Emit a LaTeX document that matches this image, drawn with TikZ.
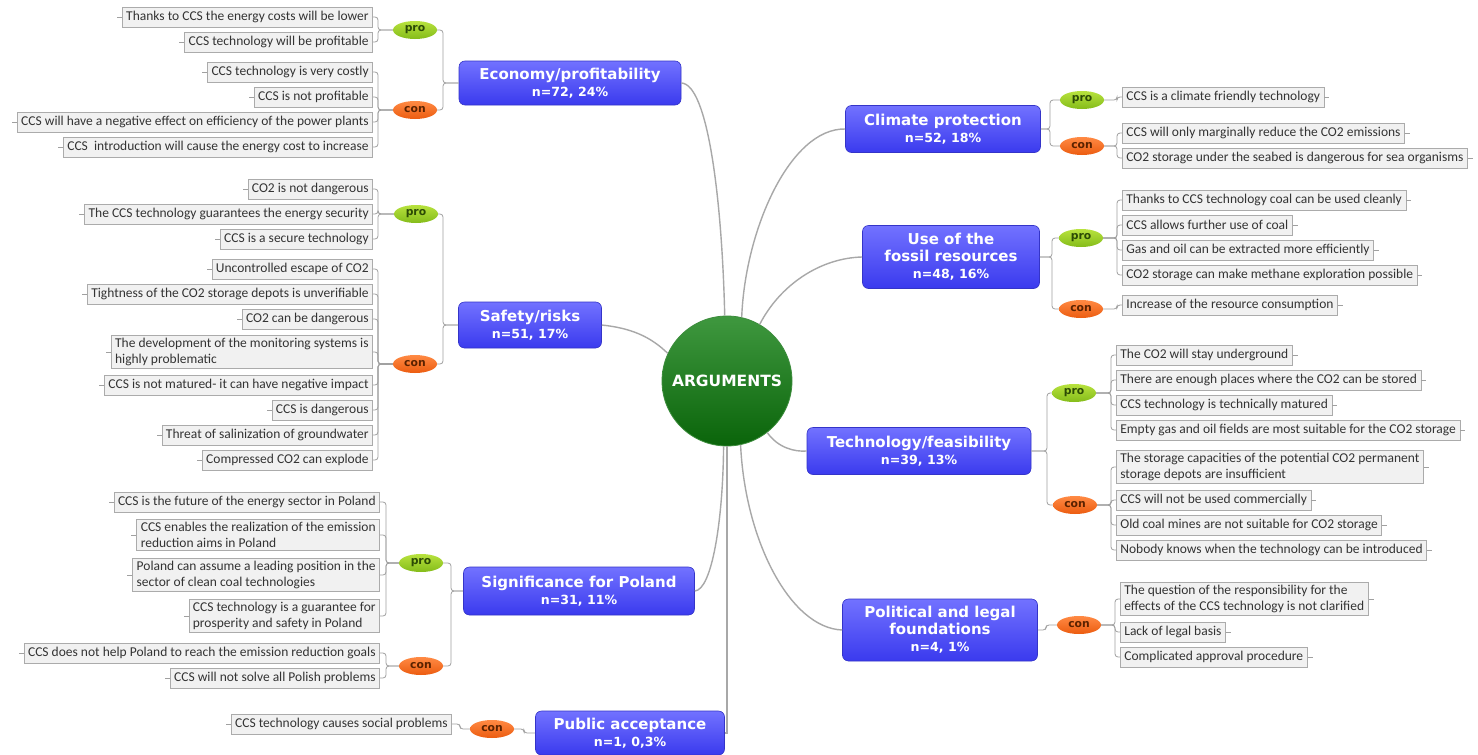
\documentclass[tikz,border=0pt]{standalone}
\usepackage{fontspec}
\setmainfont{Carlito}
\newfontfamily\verd{DejaVu Sans}
\usetikzlibrary{shapes.geometric}
\definecolor{leafborder}{HTML}{ABABAB}
\definecolor{leaffill}{HTML}{F1F1F1}
\definecolor{leaftext}{HTML}{333333}
\definecolor{catTop}{HTML}{7272FF}
\definecolor{catBot}{HTML}{3A3AEE}
\definecolor{catBorder}{HTML}{3434C8}
\definecolor{proTop}{HTML}{B8E23E}
\definecolor{proBot}{HTML}{84BC1A}
\definecolor{proText}{HTML}{2B4A05}
\definecolor{conTop}{HTML}{FF8A44}
\definecolor{conBot}{HTML}{EC5C10}
\definecolor{conText}{HTML}{5A2200}
\definecolor{argTop}{HTML}{3F983F}
\definecolor{argBot}{HTML}{0A640A}
\definecolor{argBorder}{HTML}{3C8C3C}
\definecolor{mainline}{HTML}{A8A8A8}
\definecolor{treeline}{HTML}{A0A0A0}
\newcommand\nsub[1]{{\fontsize{12.6}{14}\selectfont #1}}
\tikzset{
  x=1pt, y=-1pt,
  leaf/.style={rectangle, draw=leafborder, fill=leaffill, text=leaftext, line width=0.7pt,
    inner xsep=4pt, inner ysep=2.5pt, minimum height=20pt, align=left,
    font=\fontsize{13.5}{16}\selectfont},
  tree/.style={draw=treeline, line width=0.8pt, rounded corners=3pt},
  ltick/.style={append after command={(\tikzlastnode.west) edge[tree] ++(-5,0)}},
  rtick/.style={append after command={(\tikzlastnode.east) edge[tree] ++(5,0)}},
  lleaf/.style={leaf, anchor=east, ltick},
  rleaf/.style={leaf, anchor=west, rtick},
  cat/.style={rectangle, rounded corners=6pt, draw=catBorder, line width=0.6pt,
    top color=catTop, bottom color=catBot, text=white, align=center,
    font=\verd\bfseries\fontsize{15}{17}\selectfont, inner sep=0pt},
  bubble/.style={ellipse, minimum width=44pt, minimum height=18pt, inner sep=0pt,
    font=\verd\bfseries\fontsize{10.8}{12}\selectfont},
  probub/.style={bubble, top color=proTop, bottom color=proBot, text=proText},
  conbub/.style={bubble, top color=conTop, bottom color=conBot, text=conText},
  mainline/.style={draw=mainline, line width=1.4pt},
}
\begin{document}
\begin{tikzpicture}
\fill[white] (0,0) rectangle (1478,755);
\useasboundingbox (0,0) rectangle (1478,755);

\node[circle, minimum size=130pt, draw=argBorder, line width=0.8pt, top color=argTop, bottom color=argBot,
  text=white, font=\verd\bfseries\fontsize{15.5}{18}\selectfont, inner sep=0pt] (arg) at (727,381) {ARGUMENTS};

% ---------- categories ----------
\node[cat, minimum width=222pt, minimum height=44pt] (cEco) at (570,83) {Economy/profitability\\\nsub{n=72, 24\%}};
\node[cat, minimum width=143pt, minimum height=46pt] (cSaf) at (530,325) {Safety/risks\\\nsub{n=51, 17\%}};
\node[cat, minimum width=231pt, minimum height=48pt] (cPol) at (579,591) {Significance for Poland\\\nsub{n=31, 11\%}};
\node[cat, minimum width=189pt, minimum height=44pt] (cPub) at (630,733) {Public acceptance\\\nsub{n=1, 0,3\%}};
\node[cat, minimum width=195pt, minimum height=47pt] (cCli) at (943,129) {Climate protection\\\nsub{n=52, 18\%}};
\node[cat, minimum width=177pt, minimum height=63pt] (cFos) at (951,257) {Use of the\\fossil resources\\\nsub{n=48, 16\%}};
\node[cat, minimum width=224pt, minimum height=47pt] (cTec) at (919,451) {Technology/feasibility\\\nsub{n=39, 13\%}};
\node[cat, minimum width=195pt, minimum height=62pt] (cLaw) at (940,630) {Political and legal\\foundations\\\nsub{n=4, 1\%}};

% ---------- main connectors ----------
\draw[mainline] (cEco.east) .. controls (708,84) and (722,200) .. (arg.92);
\draw[mainline] (arg.77) .. controls (745,230) and (790,128) .. (cCli.west);
\draw[mainline] (arg.60) .. controls (780,285) and (820,258) .. (cFos.west);
\draw[mainline] (cSaf.east) .. controls (630,328) and (650,336) .. (arg.155);
\draw[mainline] (arg.-52) .. controls (778,448) and (795,452) .. (cTec.west);
\draw[mainline] (arg.-93) .. controls (723,520) and (712,590) .. (cPol.east);
\draw[mainline] (arg.-90) |- (cPub.east);
\draw[mainline] (arg.-78) .. controls (745,540) and (790,628) .. (cLaw.west);

% ---------- Economy ----------
\node[probub] (pEco) at (415,30) {pro};
\node[conbub] (nEco) at (415,110) {con};
\node[lleaf] (eco1) at (373,17) {Thanks to CCS the energy costs will be lower};
\node[lleaf] (eco2) at (373,42) {CCS technology will be profitable};
\node[lleaf] (eco3) at (373,72) {CCS technology is very costly};
\node[lleaf] (eco4) at (373,97) {CCS is not profitable};
\node[lleaf] (eco5) at (373,122) {CCS will have a negative effect on efficiency of the power plants};
\node[lleaf] (eco6) at (373,147) {CCS\ \ introduction will cause the energy cost to increase};
\coordinate (tEcoL) at (378,0);
\coordinate (tEcoC) at (443,0);
\foreach \i in {1,2} \draw[tree] (pEco.west) -- (pEco.west -| tEcoL) |- (eco\i.east);
\foreach \i in {3,4,5,6} \draw[tree] (nEco.west) -- (nEco.west -| tEcoL) |- (eco\i.east);
\draw[tree] (cEco.west) -- (cEco.west -| tEcoC) |- (pEco.east);
\draw[tree] (cEco.west) -- (cEco.west -| tEcoC) |- (nEco.east);

% ---------- Safety ----------
\node[probub] (pSaf) at (416,214) {pro};
\node[conbub] (nSaf) at (415,364) {con};
\node[lleaf] (saf1) at (373,189) {CO2 is not dangerous};
\node[lleaf] (saf2) at (373,214) {The CCS technology guarantees the energy security};
\node[lleaf] (saf3) at (373,239) {CCS is a secure technology};
\node[lleaf] (saf4) at (373,269) {Uncontrolled escape of CO2};
\node[lleaf] (saf5) at (373,294) {Tightness of the CO2 storage depots is unverifiable};
\node[lleaf] (saf6) at (373,319) {CO2 can be dangerous};
\node[lleaf] (saf7) at (373,352) {The development of the monitoring systems is\\highly problematic};
\node[lleaf] (saf8) at (373,385) {CCS is not matured- it can have negative impact};
\node[lleaf] (saf9) at (373,410) {CCS is dangerous};
\node[lleaf] (saf10) at (373,435) {Threat of salinization of groundwater};
\node[lleaf] (saf11) at (373,460) {Compressed CO2 can explode};
\coordinate (tSafL) at (378,0);
\coordinate (tSafC) at (443,0);
\foreach \i in {1,2,3} \draw[tree] (pSaf.west) -- (pSaf.west -| tSafL) |- (saf\i.east);
\foreach \i in {4,...,11} \draw[tree] (nSaf.west) -- (nSaf.west -| tSafL) |- (saf\i.east);
\draw[tree] (cSaf.west) -- (cSaf.west -| tSafC) |- (pSaf.east);
\draw[tree] (cSaf.west) -- (cSaf.west -| tSafC) |- (nSaf.east);

% ---------- Poland ----------
\node[probub] (pPol) at (421,563) {pro};
\node[conbub] (nPol) at (421,666) {con};
\node[lleaf] (pol1) at (380,502) {CCS is the future of the energy sector in Poland};
\node[lleaf] (pol2) at (380,535) {CCS enables the realization of the emission\\reduction aims in Poland};
\node[lleaf] (pol3) at (380,575) {Poland can assume a leading position in the\\sector of clean coal technologies};
\node[lleaf] (pol4) at (380,616) {CCS technology is a guarantee for\\prosperity and safety in Poland};
\node[lleaf] (pol5) at (380,653) {CCS does not help Poland to reach the emission reduction goals};
\node[lleaf] (pol6) at (380,678) {CCS will not solve all Polish problems};
\coordinate (tPolL) at (386,0);
\coordinate (tPolC) at (451,0);
\foreach \i in {1,2,3,4} \draw[tree] (pPol.west) -- (pPol.west -| tPolL) |- (pol\i.east);
\foreach \i in {5,6} \draw[tree] (nPol.west) -- (nPol.west -| tPolL) |- (pol\i.east);
\draw[tree] (cPol.west) -- (cPol.west -| tPolC) |- (pPol.east);
\draw[tree] (cPol.west) -- (cPol.west -| tPolC) |- (nPol.east);

% ---------- Public acceptance ----------
\node[conbub] (nPub) at (492,729) {con};
\node[lleaf] (pub1) at (452,724) {CCS technology causes social problems};
\coordinate (tPubL) at (460,0);
\coordinate (tPubC) at (524,0);
\draw[tree] (nPub.west) -- (nPub.west -| tPubL) |- (pub1.east);
\draw[tree] (cPub.west) -- (cPub.west -| tPubC) |- (nPub.east);

% ---------- Climate ----------
\node[probub] (pCli) at (1082,100) {pro};
\node[conbub] (nCli) at (1082,146) {con};
\node[rleaf] (cli1) at (1122,97) {CCS is a climate friendly technology};
\node[rleaf] (cli2) at (1122,133) {CCS will only marginally reduce the CO2 emissions};
\node[rleaf] (cli3) at (1122,158) {CO2 storage under the seabed is dangerous for sea organisms};
\coordinate (tCliL) at (1117,0);
\coordinate (tCliC) at (1050,0);
\draw[tree] (pCli.east) -- (pCli.east -| tCliL) |- (cli1.west);
\foreach \i in {2,3} \draw[tree] (nCli.east) -- (nCli.east -| tCliL) |- (cli\i.west);
\draw[tree] (cCli.east) -- (cCli.east -| tCliC) |- (pCli.west);
\draw[tree] (cCli.east) -- (cCli.east -| tCliC) |- (nCli.west);

% ---------- Fossil ----------
\node[probub] (pFos) at (1081,238) {pro};
\node[conbub] (nFos) at (1081,309) {con};
\node[rleaf] (fos1) at (1122,200) {Thanks to CCS technology coal can be used cleanly};
\node[rleaf] (fos2) at (1122,225) {CCS allows further use of coal};
\node[rleaf] (fos3) at (1122,250) {Gas and oil can be extracted more efficiently};
\node[rleaf] (fos4) at (1122,275) {CO2 storage can make methane exploration possible};
\node[rleaf] (fos5) at (1122,305) {Increase of the resource consumption};
\coordinate (tFosL) at (1117,0);
\coordinate (tFosC) at (1052,0);
\foreach \i in {1,2,3,4} \draw[tree] (pFos.east) -- (pFos.east -| tFosL) |- (fos\i.west);
\draw[tree] (nFos.east) -- (nFos.east -| tFosL) |- (fos5.west);
\draw[tree] (cFos.east) -- (cFos.east -| tFosC) |- (pFos.west);
\draw[tree] (cFos.east) -- (cFos.east -| tFosC) |- (nFos.west);

% ---------- Technology ----------
\node[probub] (pTec) at (1074,393) {pro};
\node[conbub] (nTec) at (1075,505) {con};
\node[rleaf] (tec1) at (1116,355) {The CO2 will stay underground};
\node[rleaf] (tec2) at (1116,380) {There are enough places where the CO2 can be stored};
\node[rleaf] (tec3) at (1116,405) {CCS technology is technically matured};
\node[rleaf] (tec4) at (1116,430) {Empty gas and oil fields are most suitable for the CO2 storage};
\node[rleaf] (tec5) at (1116,467) {The storage capacities of the potential CO2 permanent\\storage depots are insufficient};
\node[rleaf] (tec6) at (1116,500) {CCS will not be used commercially};
\node[rleaf] (tec7) at (1116,525) {Old coal mines are not suitable for CO2 storage};
\node[rleaf] (tec8) at (1116,550) {Nobody knows when the technology can be introduced};
\coordinate (tTecL) at (1111,0);
\coordinate (tTecC) at (1047,0);
\foreach \i in {1,2,3,4} \draw[tree] (pTec.east) -- (pTec.east -| tTecL) |- (tec\i.west);
\foreach \i in {5,6,7,8} \draw[tree] (nTec.east) -- (nTec.east -| tTecL) |- (tec\i.west);
\draw[tree] (cTec.east) -- (cTec.east -| tTecC) |- (pTec.west);
\draw[tree] (cTec.east) -- (cTec.east -| tTecC) |- (nTec.west);

% ---------- Political ----------
\node[conbub] (nLaw) at (1079,625) {con};
\node[rleaf] (law1) at (1120,599) {The question of the responsibility for the\\effects of the CCS technology is not clarified};
\node[rleaf] (law2) at (1120,632) {Lack of legal basis};
\node[rleaf] (law3) at (1120,657) {Complicated approval procedure};
\coordinate (tLawL) at (1115,0);
\coordinate (tLawC) at (1046,0);
\foreach \i in {1,2,3} \draw[tree] (nLaw.east) -- (nLaw.east -| tLawL) |- (law\i.west);
\draw[tree] (cLaw.east) -- (cLaw.east -| tLawC) |- (nLaw.west);
\end{tikzpicture}
\end{document}
